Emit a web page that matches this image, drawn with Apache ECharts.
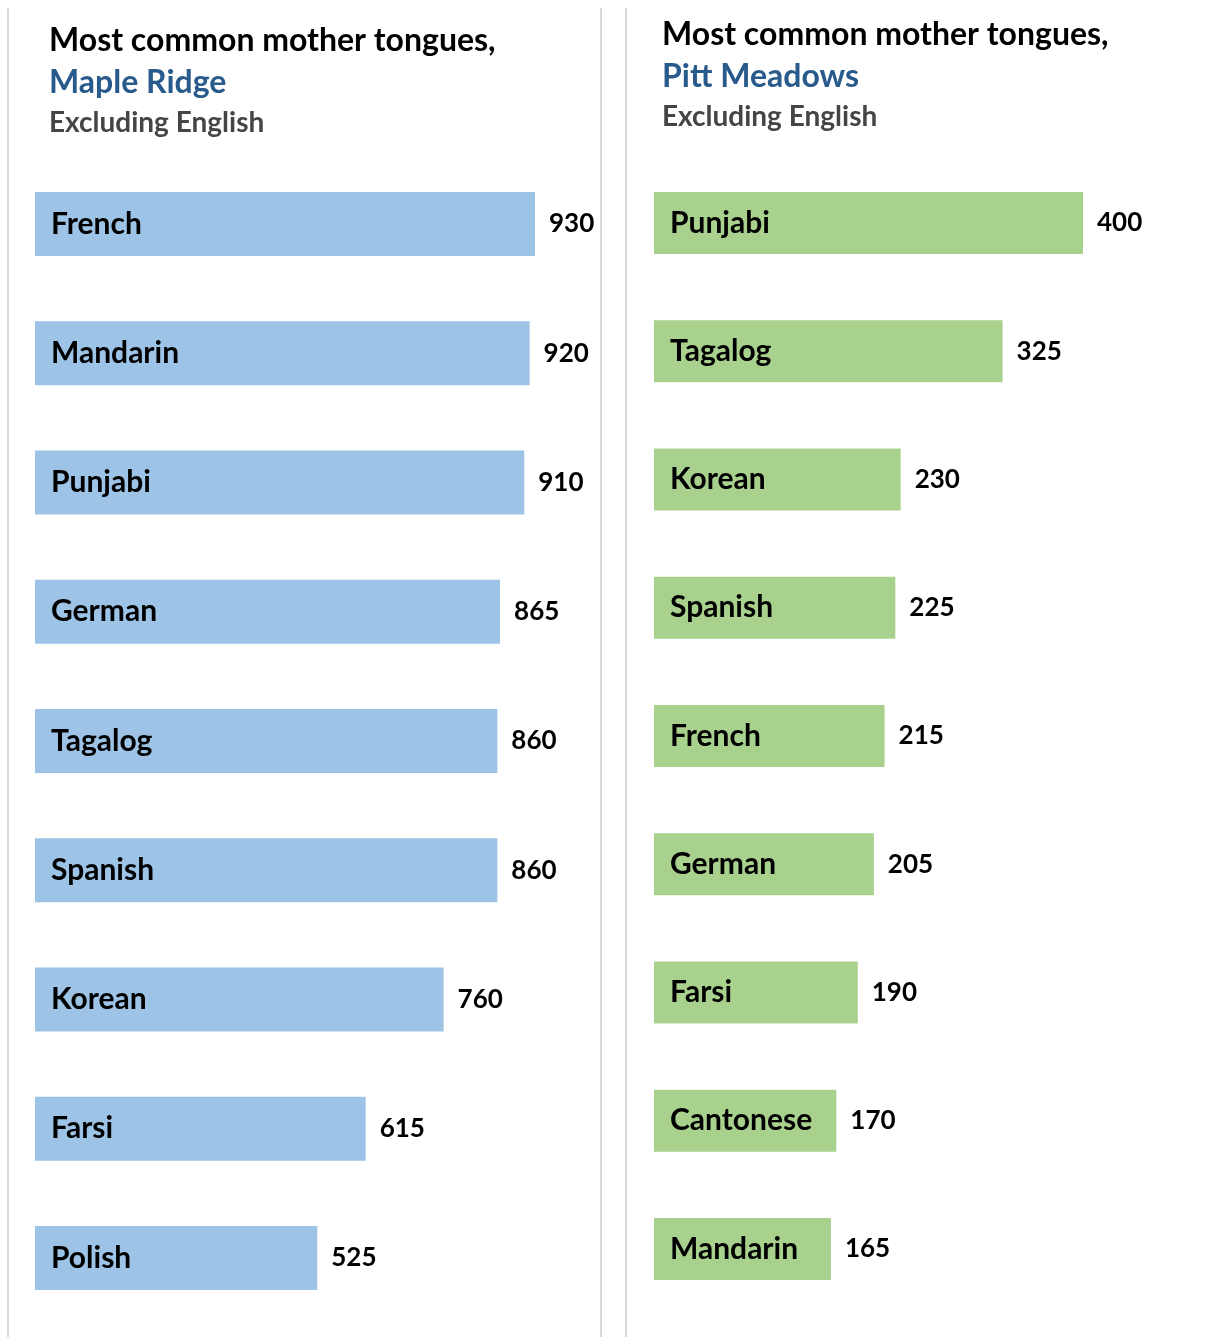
<!DOCTYPE html>
<html>
<head>
<meta charset="utf-8">
<script src="https://cdn.jsdelivr.net/npm/echarts@6/dist/echarts.min.js"></script>
<style>
  html, body { margin: 0; padding: 0; background: #ffffff; }
  #chart { width: 1217px; height: 1337px; }
</style>
</head>
<body>
<div id="chart"></div>
<script>
// Mother tongues (excluding English), largest first
const mapleRidgeLanguages = ['French', 'Mandarin', 'Punjabi', 'German', 'Tagalog', 'Spanish', 'Korean', 'Farsi', 'Polish'];
const mapleRidgeCounts = [930, 920, 910, 865, 860, 860, 760, 615, 525];

const pittMeadowsLanguages = ['Punjabi', 'Tagalog', 'Korean', 'Spanish', 'French', 'German', 'Farsi', 'Cantonese', 'Mandarin'];
const pittMeadowsCounts = [400, 325, 230, 225, 215, 205, 190, 170, 165];

const FONT = 'Lato, "Noto Sans", sans-serif';

const chart = echarts.init(document.getElementById('chart'), null, { renderer: 'canvas' });

function catAxis(gridIndex, cats) {
  return {
    type: 'category',
    gridIndex: gridIndex,
    data: cats,
    inverse: true,
    z: 10,
    axisLine: { show: false },
    axisTick: { show: false },
    splitLine: { show: false },
    axisLabel: {
      inside: true,
      margin: 16,
      color: '#000000',
      fontFamily: FONT,
      fontWeight: 'bold',
      fontSize: 30
    }
  };
}

function valAxis(gridIndex, max) {
  return {
    type: 'value',
    gridIndex: gridIndex,
    min: 0,
    max: max,
    show: false,
    splitLine: { show: false }
  };
}

function barSeries(idx, values, color, barWidth) {
  return {
    type: 'bar',
    xAxisIndex: idx,
    yAxisIndex: idx,
    data: values,
    barWidth: barWidth,
    itemStyle: { color: color },
    silent: true,
    label: {
      show: true,
      position: 'right',
      distance: 14,
      color: '#000000',
      fontFamily: FONT,
      fontWeight: 'bold',
      fontSize: 26
    }
  };
}

// Three-line heading: title, city name, subtitle (y is the top of the first line)
function heading(x, y, city) {
  return [
    { type: 'text', x: x, y: y, style: { text: 'Most common mother tongues,', font: 'bold 32px ' + FONT, fill: '#000000' } },
    { type: 'text', x: x, y: y + 42, style: { text: city, font: 'bold 32px ' + FONT, fill: '#285A8C' } },
    { type: 'text', x: x, y: y + 84, style: { text: 'Excluding English', font: 'bold 28px ' + FONT, fill: '#454545' } }
  ];
}

function rule(x) {
  return { type: 'line', shape: { x1: x, y1: 8, x2: x, y2: 1337 }, style: { stroke: '#D9D9D9', lineWidth: 2 }, silent: true };
}

chart.setOption({
  backgroundColor: '#ffffff',
  animation: false,
  grid: [
    { left: 35, top: 159.4, width: 537.63, height: 1163.25, containLabel: false },
    { left: 654, top: 158.9, width: 536.25, height: 1154.25, containLabel: false }
  ],
  xAxis: [valAxis(0, 1000), valAxis(1, 500)],
  yAxis: [catAxis(0, mapleRidgeLanguages), catAxis(1, pittMeadowsLanguages)],
  series: [
    barSeries(0, mapleRidgeCounts, '#9DC3E6', 64),
    barSeries(1, pittMeadowsCounts, '#A9D18E', 62)
  ],
  graphic: [
    rule(8), rule(601), rule(626)
  ].concat(heading(49, 25, 'Maple Ridge'), heading(662, 19, 'Pitt Meadows'))
});
</script>
</body>
</html>
